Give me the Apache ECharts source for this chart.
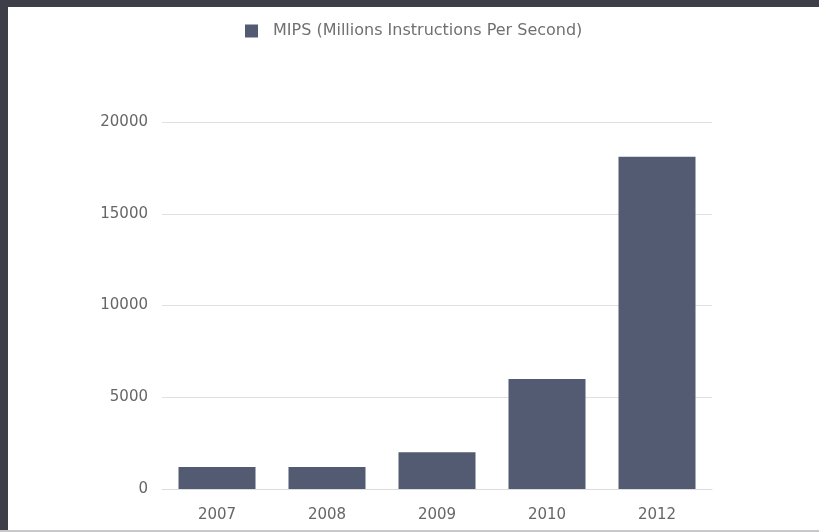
<!DOCTYPE html>
<html>
<head>
<meta charset="utf-8">
<script src="https://cdn.jsdelivr.net/npm/echarts@6/dist/echarts.min.js"></script>
<style>
html,body{margin:0;padding:0;width:819px;height:532px;overflow:hidden;background:#c8c8ca;}
#frame{position:absolute;left:0;top:0;width:819px;height:530px;background:#3d3e47;}
#chart{position:absolute;left:8px;top:7px;width:811px;height:523px;background:#fff;}
</style>
</head>
<body>
<div id="frame"></div>
<div id="chart"></div>
<script>
const categories = ['2007', '2008', '2009', '2010', '2012'];
const mipsValues = [1200, 1200, 2000, 6000, 18100];
const seriesName = 'MIPS (Millions Instructions Per Second)';

const chart = echarts.init(document.getElementById('chart'));
chart.setOption({
  animation: false,
  legend: {
    top: 11,
    left: 232,
    itemWidth: 13,
    itemHeight: 13,
    textStyle: { color: '#707070', fontSize: 16, fontFamily: 'DejaVu Sans', padding: [0, 0, 0, 10] },
    data: [{ name: seriesName, icon: 'rect' }]
  },
  grid: { left: 154, right: 107, top: 115, bottom: 41, containLabel: false },
  xAxis: {
    type: 'category',
    data: categories,
    axisLine: { lineStyle: { color: '#dcdcdc', width: 1 } },
    axisTick: { show: false },
    axisLabel: { color: '#666', fontSize: 15, margin: 19, fontFamily: 'DejaVu Sans' }
  },
  yAxis: {
    type: 'value',
    min: 0,
    max: 20000,
    interval: 5000,
    axisLine: { show: false },
    axisTick: { show: false },
    splitLine: { lineStyle: { color: '#e0e0e0', width: 1 } },
    axisLabel: { color: '#666', fontSize: 15, margin: 14, fontFamily: 'DejaVu Sans', formatter: v => String(v) }
  },
  series: [{
    name: seriesName,
    type: 'bar',
    data: mipsValues,
    barWidth: '70%',
    itemStyle: { color: '#535b72' }
  }]
});
</script>
</body>
</html>
